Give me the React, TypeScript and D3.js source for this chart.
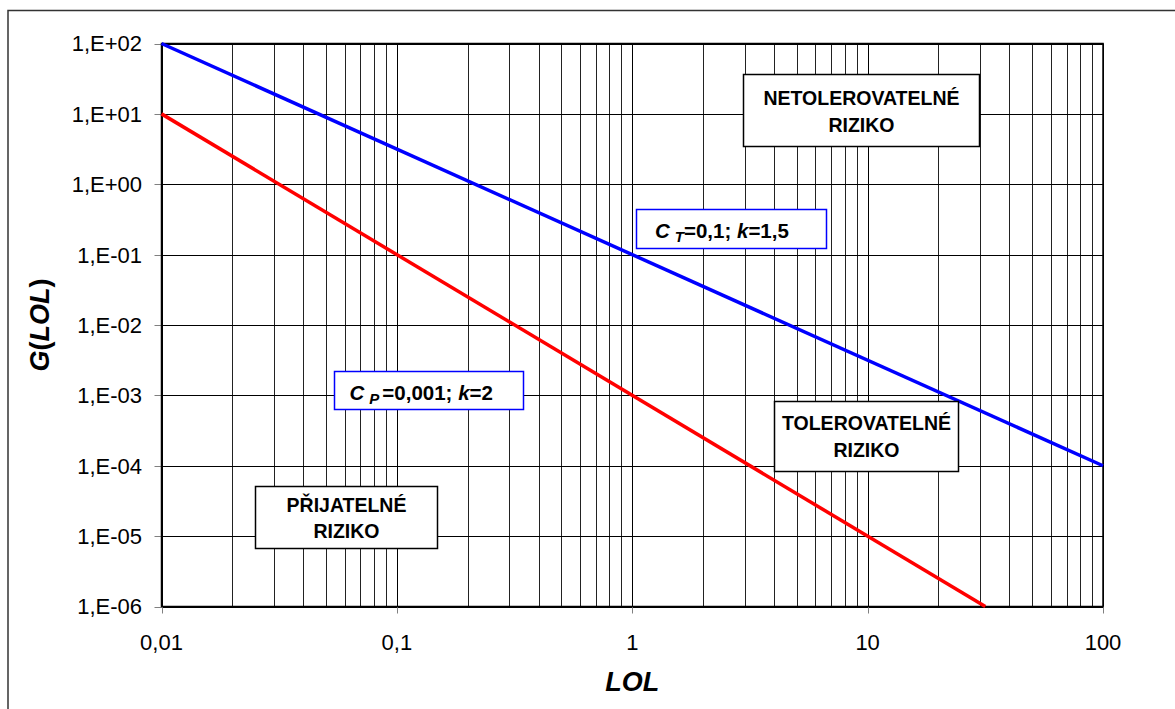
import React from 'react'
import * as d3 from 'd3'

// decade tick values and their labels (Czech decimal comma)
const xTickValues = [0.01, 0.1, 1, 10, 100]
const xTickLabels = ['0,01', '0,1', '1', '10', '100']
const yTickValues = [1e2, 1e1, 1e0, 1e-1, 1e-2, 1e-3, 1e-4, 1e-5, 1e-6]
const yTickLabels = ['1,E+02', '1,E+01', '1,E+00', '1,E-01', '1,E-02', '1,E-03', '1,E-04', '1,E-05', '1,E-06']

// limit lines G(LOL) = C / LOL^k, end points
const tolerableLOL = [0.01, 100]
const tolerableG = [100, 1e-4]
const acceptableLOL = [0.01, 31.62]
const acceptableG = [10, 1e-6]

const W = 1175, H = 709
const margin = { top: 43.5, right: 72, bottom: 102.5, left: 161.5 }
const FONT = '"Liberation Sans", Arial, Helvetica, sans-serif'

export default function App() {
  const x = d3.scaleLog().domain([0.01, 100]).range([margin.left, W - margin.right])
  const y = d3.scaleLog().domain([1e-6, 1e2]).range([H - margin.bottom, margin.top])
  const [x0, x1] = x.range()
  const [y0, y1] = y.range()

  const line = d3.line<[number, number]>().x(d => x(d[0])).y(d => y(d[1]))
  const blue = tolerableLOL.map((v, i) => [v, tolerableG[i]] as [number, number])
  const red = acceptableLOL.map((v, i) => [v, acceptableG[i]] as [number, number])

  const minorX = x.ticks().filter(v => !xTickValues.some(t => Math.abs(t - v) / t < 1e-9))

  const box = (bx: number, by: number, bw: number, bh: number, stroke: string) => (
    <rect x={bx} y={by} width={bw} height={bh} fill="#fff" stroke={stroke} strokeWidth={1.5} />
  )

  return (
    <svg width={W} height={H} style={{ position: 'absolute', left: 0, top: 0, background: '#fff' }} fontFamily={FONT}>
      {/* outer chart frame */}
      <rect x={8} y={10.5} width={1300} height={800} fill="#fff" stroke="#333" strokeWidth={1.5} />

      {/* grid */}
      <g>
        {minorX.map(v => (
          <line key={'mx' + v} x1={Math.round(x(v)) + 0.5} x2={Math.round(x(v)) + 0.5} y1={y1} y2={y0} stroke="#222" strokeWidth={1} />
        ))}
        {xTickValues.map(v => (
          <line key={'gx' + v} x1={Math.round(x(v)) + 0.5} x2={Math.round(x(v)) + 0.5} y1={y1} y2={y0} stroke="#000" strokeWidth={1} />
        ))}
        {yTickValues.map(v => (
          <line key={'gy' + v} x1={x0} x2={x1} y1={Math.round(y(v)) + 0.5} y2={Math.round(y(v)) + 0.5} stroke="#000" strokeWidth={1} />
        ))}
      </g>

      {/* ticks and labels */}
      <g>
        {yTickValues.map((v, i) => (
          <g key={'ty' + v}>
            <line x1={x0 - 7} x2={x0} y1={Math.round(y(v)) + 0.5} y2={Math.round(y(v)) + 0.5} stroke="#808080" strokeWidth={1} />
            <text x={142} y={y(v)} dy="0.36em" textAnchor="end" fontSize={22} fill="#000">{yTickLabels[i]}</text>
          </g>
        ))}
        {xTickValues.map((v, i) => (
          <g key={'tx' + v}>
            <line x1={Math.round(x(v)) + 0.5} x2={Math.round(x(v)) + 0.5} y1={y0} y2={y0 + 7} stroke="#808080" strokeWidth={1} />
            <text x={x(v)} y={649.5} textAnchor="middle" fontSize={22} fill="#000">{xTickLabels[i]}</text>
          </g>
        ))}
      </g>

      {/* plot border */}
      <rect x={x0} y={y1} width={x1 - x0} height={y0 - y1} fill="none" stroke="#000" strokeWidth={1.5} />

      {/* axis titles */}
      <text x={(x0 + x1) / 2} y={691} textAnchor="middle" fontSize={27} fontWeight="bold" fontStyle="italic">LOL</text>
      <text transform={`translate(49,${(y0 + y1) / 2}) rotate(-90)`} textAnchor="middle" fontSize={27} fontWeight="bold">
        <tspan fontStyle="italic">G</tspan>(<tspan fontStyle="italic">LOL</tspan>)
      </text>

      {/* limit lines */}
      <path d={line(blue) || ''} fill="none" stroke="#0000ff" strokeWidth={3.5} />
      <path d={line(red) || ''} fill="none" stroke="#ff0000" strokeWidth={3.5} />

      {/* region labels */}
      <g fontSize={19.5} fontWeight="bold" textAnchor="middle">
        {box(743.5, 74.5, 236, 72, '#000')}
        <text x={861.5} y={105}>NETOLEROVATELNÉ</text>
        <text x={861.5} y={132}>RIZIKO</text>

        {box(774.5, 401.5, 184, 70, '#000')}
        <text x={866.5} y={430}>TOLEROVATELNÉ</text>
        <text x={866.5} y={457}>RIZIKO</text>

        {box(255.5, 486.5, 182, 62, '#000')}
        <text x={346.5} y={512}>PŘIJATELNÉ</text>
        <text x={346.5} y={538}>RIZIKO</text>
      </g>

      {/* line labels */}
      <g fontSize={20.5} fontWeight="bold">
        {box(636.5, 209.5, 190, 39, '#0000ff')}
        <text x={655} y={237.5}>
          <tspan fontStyle="italic">C</tspan>
          <tspan fontStyle="italic" fontSize={15} dx={5} dy={4}>T</tspan>
          <tspan dy={-4}>=0,1; </tspan>
          <tspan fontStyle="italic">k</tspan>
          <tspan>=1,5</tspan>
        </text>

        {box(334.5, 371.5, 189, 38, '#0000ff')}
        <text x={349.5} y={399.5}>
          <tspan fontStyle="italic">C</tspan>
          <tspan fontStyle="italic" fontSize={15} dx={5} dy={4}>P</tspan>
          <tspan dx={3} dy={-4}>=0,001; </tspan>
          <tspan fontStyle="italic">k</tspan>
          <tspan>=2</tspan>
        </text>
      </g>
    </svg>
  )
}
